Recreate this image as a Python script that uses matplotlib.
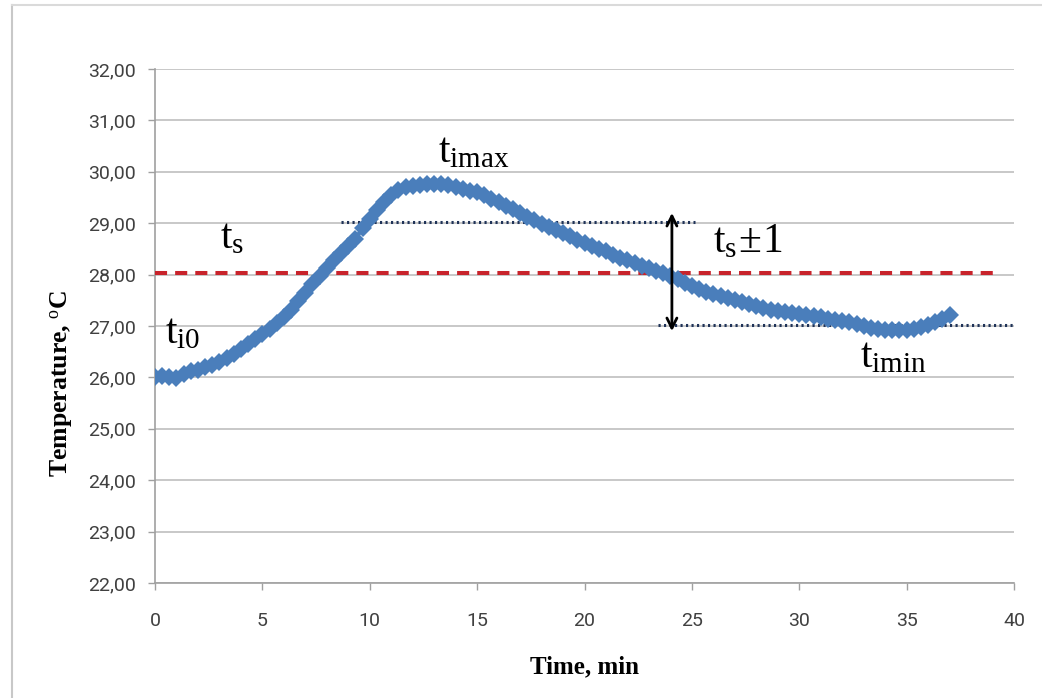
import matplotlib
matplotlib.use("Agg")
import matplotlib.pyplot as plt
from matplotlib.lines import Line2D
import numpy as np

# temperature readings, one every 20 s (1/3 min)
temps = [26.00, 26.03, 26.00, 25.99, 26.06, 26.12, 26.15, 26.20, 26.25, 26.30,
         26.38, 26.45, 26.55, 26.65, 26.74, 26.85, 26.95, 27.05, 27.18, 27.32,
         27.48, 27.65, 27.82, 27.98, 28.12, 28.28, 28.42, 28.55, 28.70, 28.90,
         29.08, 29.25, 29.42, 29.55, 29.64, 29.70, 29.72, 29.74, 29.76, 29.77,
         29.76, 29.74, 29.70, 29.67, 29.63, 29.60, 29.55, 29.48, 29.41, 29.34,
         29.27, 29.20, 29.13, 29.06, 28.99, 28.93, 28.87, 28.81, 28.75, 28.68,
         28.62, 28.56, 28.50, 28.45, 28.39, 28.33, 28.28, 28.22, 28.17, 28.12,
         28.07, 28.03, 27.98, 27.91, 27.84, 27.78, 27.72, 27.67, 27.62, 27.58,
         27.54, 27.50, 27.46, 27.42, 27.38, 27.35, 27.32, 27.29, 27.27, 27.25,
         27.23, 27.21, 27.19, 27.17, 27.14, 27.12, 27.09, 27.07, 27.04, 27.00,
         26.96, 26.94, 26.93, 26.92, 26.93, 26.93, 26.95, 26.98, 27.02, 27.08,
         27.14, 27.21]
step_min = 1 / 3
times = np.arange(len(temps)) * step_min

ts = 28.04          # set temperature (red dashed)
ts_hi = 29.02       # upper band (dotted)
ts_lo = 27.02       # lower band (dotted)
hi_span = (8.66, 25.15)
lo_span = (23.4, 40.0)
red_span = (0.0, 39.3)
arrow_x = 24.07
arrow_y = (29.2, 26.9)

yticks = [22, 23, 24, 25, 26, 27, 28, 29, 30, 31, 32]
xticks = [0, 5, 10, 15, 20, 25, 30, 35, 40]

plt.rcParams['mathtext.fontset'] = 'custom'
plt.rcParams['mathtext.rm'] = 'Liberation Serif'
plt.rcParams['mathtext.it'] = 'Liberation Serif'

W, H = 1042, 698
fig = plt.figure(figsize=(W / 100, H / 100), dpi=100)
ax = fig.add_axes([155 / W, 1 - 583 / H, (1014 - 155) / W, (583 - 69) / H])

ax.set_xlim(0, 40)
ax.set_ylim(22, 32)
ax.set_yticks(yticks)
ax.set_xticks(xticks)
ax.set_yticklabels([("%.2f" % v).replace(".", ",") for v in yticks])
ax.set_xticklabels([str(v) for v in xticks])
for lab in ax.get_xticklabels() + ax.get_yticklabels():
    lab.set_family('Roboto')
    lab.set_fontsize(14)
    lab.set_color('#404040')
ax.tick_params(axis='y', direction='out', length=5, width=1, color='#A0A0A0', pad=9)
ax.tick_params(axis='x', direction='out', length=5, width=1, color='#A0A0A0', pad=16)

ax.grid(axis='y', color='#C4C4C4', lw=1.3)
ax.set_axisbelow(True)
for s in ['top', 'right']:
    ax.spines[s].set_visible(False)
for s in ['left', 'bottom']:
    ax.spines[s].set_color('#A0A0A0')
    ax.spines[s].set_linewidth(1.2)

# reference lines
ax.plot(red_span, [ts, ts], color='#C8232B', lw=2.9, dashes=(3, 2), zorder=3)
ax.plot(hi_span, [ts_hi, ts_hi], color='#1F3358', lw=2.2, ls=(0, (0.7, 1.1)), zorder=3)
ax.plot(lo_span, [ts_lo, ts_lo], color='#1F3358', lw=2.2, ls=(0, (0.7, 1.1)), zorder=3)

# measured temperature
ax.plot(times, temps, color='#4A7EBB', lw=3, marker='D', markersize=9,
        markeredgewidth=0, zorder=4)

ax.annotate('', xy=(arrow_x, arrow_y[1]), xytext=(arrow_x, arrow_y[0]),
            arrowprops=dict(arrowstyle='<->', color='black', lw=2,
                            mutation_scale=18, shrinkA=0, shrinkB=0), zorder=5)

lab_kw = dict(fontsize=30, color='black', ha='left', va='baseline', zorder=6)
ax.text(13.18, 30.19, r'$\mathrm{t_{imax}}$', **lab_kw)
ax.text(3.03, 28.52, r'$\mathrm{t_{s}}$', **lab_kw)
ax.text(0.47, 26.67, r'$\mathrm{t_{i0}}$', **lab_kw)
ax.text(25.98, 28.44, r'$\mathrm{t_{s}\!\pm\!1}$', **lab_kw)
ax.text(32.83, 26.20, r'$\mathrm{t_{imin}}$', **lab_kw)

fig.text(585 / W, 1 - 667 / H, 'Time, min', family='Liberation Serif',
         weight='bold', fontsize=18, ha='center', va='center')
fig.text(62 / W, 1 - 383 / H, 'Temperature, $^{\\mathrm{o}}$C', family='Liberation Serif',
         weight='bold', fontsize=18.5, ha='center', va='center', rotation=90)

# outer chart frame (left and top edges)
fig.add_artist(Line2D([12 / W, 12 / W], [0, 1 - 5 / H], transform=fig.transFigure,
                      color='#C8C8C8', lw=1.5))
fig.add_artist(Line2D([12 / W, 1], [1 - 5 / H, 1 - 5 / H], transform=fig.transFigure,
                      color='#DADADA', lw=1.5))

fig.savefig('out.png', dpi=100)
